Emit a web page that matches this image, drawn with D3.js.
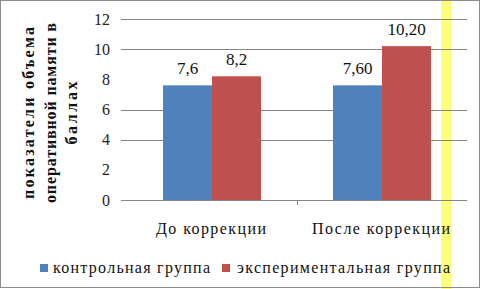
<!DOCTYPE html>
<html><head><meta charset="utf-8">
<script src="https://cdn.jsdelivr.net/npm/d3@7"></script>
<style>html,body{margin:0;padding:0;background:#fff;}svg{display:block;}</style>
</head><body>
<script>
const categories = ["До коррекции", "После коррекции"];
const seriesNames = ["контрольная группа", "экспериментальная группа"];
const controlValues = [7.6, 7.6];
const experimentalValues = [8.2, 10.2];
const controlLabels = ["7,6", "7,60"];
const experimentalLabels = ["8,2", "10,20"];
const yTicks = [0, 2, 4, 6, 8, 10, 12];
const visibleGridlines = [0, 4, 6, 10, 12];
const yTitleLines = ["показатели объема", "оперативной памяти в", "баллах"];

const W = 482, H = 289;
const font = "Liberation Serif";
const colors = ["#4f81bd", "#c0504d"];

const svg = d3.select("body").append("svg").attr("width", W).attr("height", H);
svg.append("rect").attr("width", W).attr("height", H).attr("fill", "#fff");
svg.append("rect").attr("x", 441).attr("y", 0).attr("width", 10).attr("height", H).attr("fill", "#ffff78");
svg.append("rect").attr("x", 0.5).attr("y", 0.5).attr("width", 479).attr("height", 287)
  .attr("fill", "none").attr("stroke", "#8c8c8c").attr("stroke-width", 1);

const y = d3.scaleLinear().domain([0, 12]).range([200, 19]);
const x = d3.scaleBand().domain(categories).range([127, 467]).padding(0);
const barW = 49;

svg.append("g").selectAll("line").data(visibleGridlines).join("line")
  .attr("x1", 121).attr("x2", 467)
  .attr("y1", d => Math.round(y(d)) + 0.5).attr("y2", d => Math.round(y(d)) + 0.5)
  .attr("stroke", "#868686").attr("stroke-width", 1);

svg.append("line").attr("x1", x(categories[1]) + 0.5).attr("x2", x(categories[1]) + 0.5)
  .attr("y1", 200).attr("y2", 205).attr("stroke", "#868686");

svg.append("g").selectAll("text").data(yTicks).join("text")
  .attr("x", 110).attr("y", d => y(d)).attr("dy", "0.35em")
  .attr("text-anchor", "end").style("font-family", font).style("font-size", "16px")
  .attr("fill", "#222").text(d => d);

const series = [controlValues, experimentalValues];
const labels = [controlLabels, experimentalLabels];
series.forEach((vals, si) => {
  const g = svg.append("g");
  g.selectAll("rect").data(categories).join("rect")
    .attr("x", c => x(c) + x.bandwidth() / 2 - barW + si * barW)
    .attr("y", (c, i) => y(vals[i]))
    .attr("width", barW)
    .attr("height", (c, i) => y(0) - y(vals[i]))
    .attr("fill", colors[si]);
  g.selectAll("text").data(categories).join("text")
    .attr("x", c => x(c) + x.bandwidth() / 2 - barW / 2 + si * barW)
    .attr("y", (c, i) => y(vals[i]) - 11)
    .attr("text-anchor", "middle").style("font-family", font).style("font-size", "17px")
    .attr("fill", "#111").text((c, i) => labels[si][i]);
});

const catWidths = [110, 138];
svg.append("g").selectAll("text").data(categories).join("text")
  .attr("x", c => x(c) + x.bandwidth() / 2 - 1)
  .attr("y", 234).attr("text-anchor", "middle")
  .style("font-family", font).style("font-size", "16px").attr("fill", "#111")
  .attr("textLength", (c, i) => catWidths[i]).attr("lengthAdjust", "spacing")
  .text(c => c);

const titleX = [34, 56, 77];
const titleLen = [172, 180, 63];
svg.append("g").selectAll("text").data(yTitleLines).join("text")
  .attr("transform", (d, i) => `translate(${titleX[i]},113) rotate(-90)`)
  .attr("text-anchor", "middle").style("font-family", font).style("font-size", "16px")
  .style("font-weight", "bold").attr("fill", "#111")
  .attr("textLength", (d, i) => titleLen[i]).attr("lengthAdjust", "spacing")
  .text(d => d);

const legX = [40, 222];
const legTextX = [53, 237];
const legLen = [157, 213];
seriesNames.forEach((n, i) => {
  svg.append("rect").attr("x", legX[i]).attr("y", 264).attr("width", 8).attr("height", 8).attr("fill", colors[i]);
  svg.append("text").attr("x", legTextX[i]).attr("y", 273)
    .style("font-family", font).style("font-size", "16px").attr("fill", "#111")
    .attr("textLength", legLen[i]).attr("lengthAdjust", "spacing").text(n);
});
</script>
</body></html>
